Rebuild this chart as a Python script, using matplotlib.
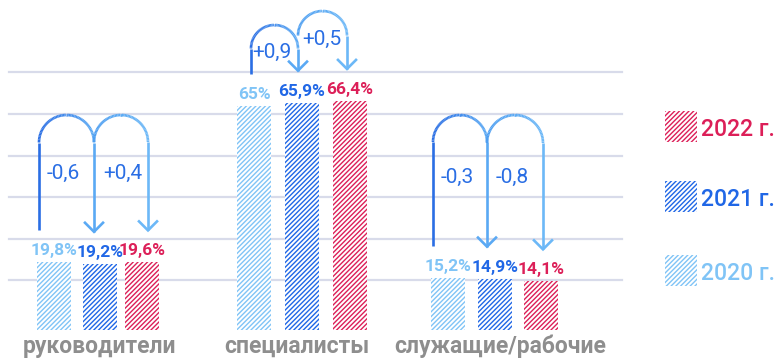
import numpy as np
import matplotlib
matplotlib.use("Agg")
import matplotlib.pyplot as plt
from matplotlib.collections import LineCollection
from matplotlib.colors import to_rgb
from matplotlib.patches import Rectangle

plt.rcParams['font.family'] = ['Roboto', 'DejaVu Sans']
plt.rcParams['hatch.linewidth'] = 1.0

categories = ['руководители', 'специалисты', 'служащие/рабочие']
years = ['2020 г.', '2021 г.', '2022 г.']
values_2020 = [19.8, 65.0, 15.2]
values_2021 = [19.2, 65.9, 14.9]
values_2022 = [19.6, 66.4, 14.1]
changes_21 = ['-0,6', '+0,9', '-0,3']
changes_22 = ['+0,4', '+0,5', '-0,8']
labels_2020 = ['19,8%', '65%', '15,2%']
labels_2021 = ['19,2%', '65,9%', '14,9%']
labels_2022 = ['19,6%', '66,4%', '14,1%']

light = '#80c4f6'
blue = '#2067e6'
red = '#dc1f58'
loop_dark = '#2a6ee4'
loop_light = '#6cb8f7'
hatch = '/' * 7

W, H = 775, 359
base_px = 330          # baseline, pixels from top
ky = 3.45              # pixels per percent

fig = plt.figure(figsize=(W / 100, H / 100), dpi=100)
ax = fig.add_axes([0, 0, 1, 1])
ax.set_xlim(0, W)
ax.set_ylim(-(H - base_px) / ky, base_px / ky)
ax.axis('off')


def py(p):
    # pixel row -> percent units
    return (base_px - p) / ky


# background lines
for row in [72, 114, 156, 197, 239, 280]:
    ax.plot([9, 622], [py(row)] * 2, color='#d8dbea', lw=1.6, zorder=0)

group_x = [[54, 100, 142], [254, 302, 350], [448, 495, 541]]
bar_w = 34
series = [values_2020, values_2021, values_2022]
labels = [labels_2020, labels_2021, labels_2022]
colors = [light, blue, red]

for i, vals in enumerate(series):
    xs = [g[i] for g in group_x]
    ax.bar(xs, vals, width=bar_w, color='white', edgecolor=colors[i],
           hatch=hatch, linewidth=0, zorder=2)
    for x, v, t in zip(xs, vals, labels[i]):
        ax.text(x, v + 4 / ky, t, ha='center', va='bottom', color=colors[i],
                fontsize=12.5, fontweight='bold', zorder=3)

for x, c in zip([100, 297, 500], categories):
    ax.text(x, py(346), c, ha='center', va='center', color='#8e8e8e',
            fontsize=16.5, fontweight='bold')


def grad_line(xs, ys, c0, c1, xl, xr):
    pts = np.column_stack([xs, ys])
    segs = np.stack([pts[:-1], pts[1:]], axis=1)
    t = np.clip((0.5 * (xs[:-1] + xs[1:]) - xl) / (xr - xl), 0, 1)
    a, b = np.array(to_rgb(c0)), np.array(to_rgb(c1))
    cols = a[None, :] * (1 - t[:, None]) + b[None, :] * t[:, None]
    ax.add_collection(LineCollection(segs, colors=cols, linewidths=1.9,
                                     capstyle='butt', zorder=4))


def loop(xl, xr, y_start, top_px, y_tip, c0, c1, with_leg=True):
    r = (xr - xl) / 2
    cy = py(top_px + r)
    t = np.linspace(np.pi, 0, 60)
    ax_ = xl + r + r * np.cos(t)
    ay_ = cy + r * np.sin(t) / ky
    xs = np.concatenate([[xl] if with_leg else [], ax_, [xr]])
    ys = np.concatenate([[y_start] if with_leg else [], ay_, [y_tip]])
    grad_line(xs, ys, c0, c1, xl, xr)
    # open arrow head
    ax.plot([xr - 9, xr, xr + 9], [y_tip + 9 / ky, y_tip, y_tip + 9 / ky],
            color=c1, lw=1.9, solid_joinstyle='miter', zorder=4)


# leg positions of the two loops in each group
leg_x = [[39, 94, 148], [251, 298, 347], [433, 487, 543]]
loop_tops = [(115, 115), (25, 11), (115, 115)]
text_rows = [(173, 173), (52, 39), (177, 177)]
text_x = [(63, 123), (272, 322), (457, 512)]
for g in range(3):
    xa, xb, xc = leg_x[g]
    v0, v1, v2 = values_2020[g], values_2021[g], values_2022[g]
    t1, t2 = loop_tops[g]
    gap = 32 / ky
    loop(xa, xb, v0 + gap, t1, v1 + gap, loop_dark, '#5aa9f4')
    loop(xb, xc, None, t2, v2 + gap, '#4d9ef1', loop_light, with_leg=False)
    ax.text(text_x[g][0], py(text_rows[g][0]), changes_21[g],
            ha='center', va='center', color=loop_dark, fontsize=15, zorder=5)
    ax.text(text_x[g][1], py(text_rows[g][1]), changes_22[g],
            ha='center', va='center', color=loop_dark, fontsize=15, zorder=5)

# legend
for row, yr, c in zip([127, 197, 271], years[::-1], colors[::-1]):
    ax.add_patch(Rectangle((665, py(row + 15)), 32, 31 / ky,
                           facecolor='white', edgecolor=c, hatch=hatch,
                           linewidth=0))
    ax.text(701, py(row + 3), yr, ha='left', va='center', color=c,
            fontsize=16.5, fontweight='medium')

fig.savefig('out.png', dpi=100)
